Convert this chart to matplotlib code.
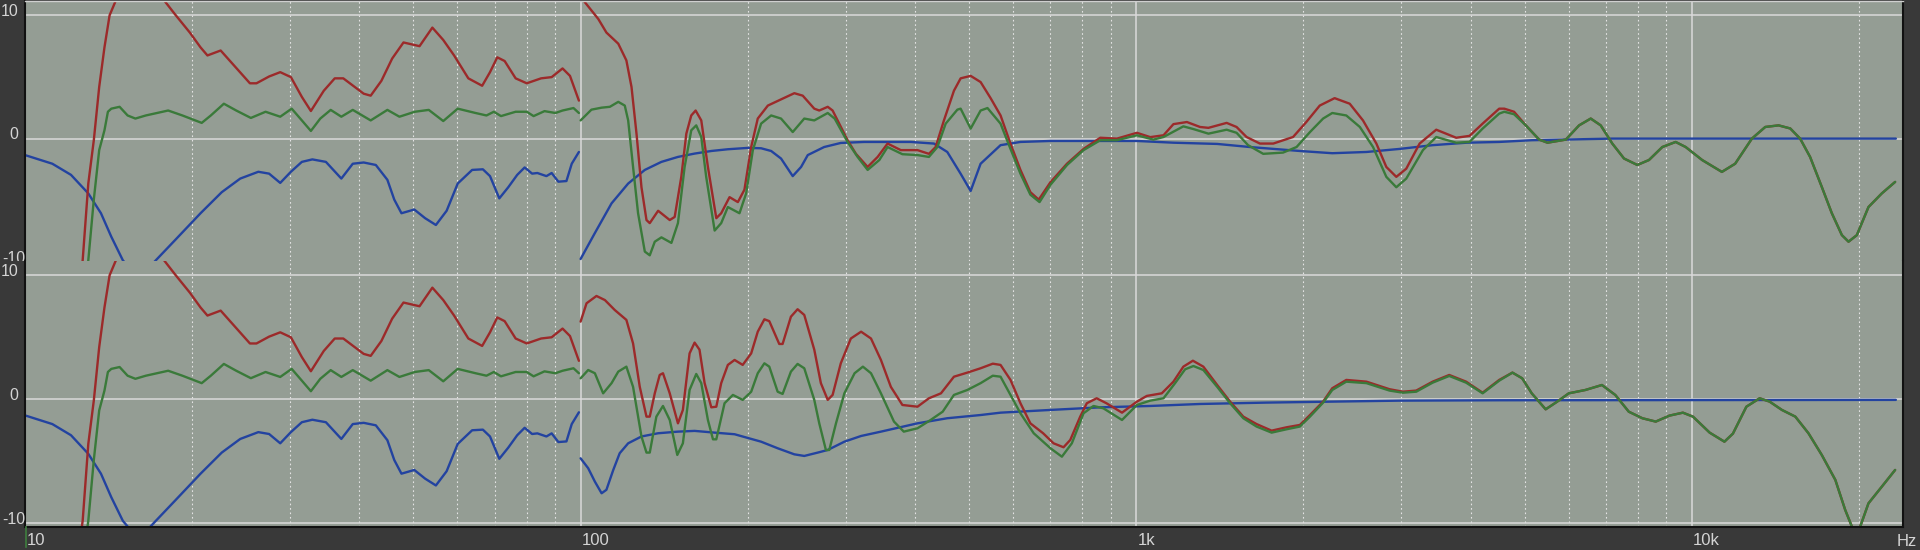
import matplotlib
matplotlib.use("Agg")
import matplotlib.pyplot as plt
from matplotlib.ticker import LogLocator, FixedLocator, NullFormatter
from matplotlib.transforms import offset_copy, Bbox, TransformedBbox
from matplotlib.lines import Line2D

# ---- low band (10-100 Hz), drawn identically in both panels ----
lo_red_f = [12.5, 12.7, 13.0, 13.3, 13.6, 13.9, 14.2, 14.7, 15.4, 16.5,
            17.8, 18.6, 19.8, 20.7, 21.3, 22.5, 23.5, 25.4, 26.1, 27.5,
            28.8, 30.1, 31.5, 32.7, 34.5, 36.1, 37.4, 40.7, 41.9, 43.8,
            45.8, 48.0, 51.3, 54.1, 56.6, 59.2, 62.8, 66.5, 68.7, 70.8,
            73.0, 76.4, 80.0, 84.9, 88.7, 92.8, 95.7, 99.3]
lo_red_db = [-12, -9.8, -3.6, -0.1, 4.2, 7.4, 10.0, 11.6, 13.0, 12.8,
             11.2, 10.1, 8.6, 7.4, 6.75, 7.15, 6.2, 4.5, 4.5, 5.05,
             5.4, 5.0, 3.4, 2.26, 3.9, 4.9, 4.9, 3.66, 3.5, 4.7,
             6.5, 7.8, 7.5, 9.0, 8.0, 6.75, 4.9, 4.3, 5.4, 6.6,
             6.3, 4.9, 4.5, 4.9, 5.0, 5.7, 5.1, 3.1]
lo_grn_f = [12.8, 13.0, 13.3, 13.6, 13.9, 14.1, 14.3, 14.8, 15.3, 15.8,
            16.5, 18.1, 19.2, 20.8, 21.6, 22.8, 24.0, 25.5, 27.1, 28.8,
            30.2, 31.5, 32.7, 34.0, 35.5, 37.1, 38.9, 41.9, 44.9, 47.2,
            50.3, 53.3, 56.6, 60.1, 64.7, 67.7, 69.8, 71.9, 76.4, 80.0,
            82.3, 86.1, 90.1, 92.8, 97.1, 99.3]
lo_grn_db = [-12, -9.8, -4.9, -0.9, 0.7, 2.2, 2.45, 2.6, 1.9, 1.65,
             1.9, 2.3, 1.9, 1.3, 1.9, 2.85, 2.3, 1.7, 2.2, 1.8,
             2.45, 1.5, 0.65, 1.65, 2.35, 1.8, 2.35, 1.5, 2.35, 1.8,
             2.2, 2.35, 1.45, 2.45, 2.1, 1.9, 2.2, 1.85, 2.2, 2.2,
             1.85, 2.25, 2.1, 2.3, 2.5, 2.1]
lo_blu_f = [10.0, 11.2, 12.1, 13.0, 13.7, 14.3, 15.0, 16.0, 17.2, 18.6,
            20.7, 22.6, 24.4, 26.3, 27.5, 28.8, 30.1, 31.5, 32.9, 34.8,
            37.1, 38.9, 40.7, 42.8, 44.9, 46.2, 47.6, 50.2, 52.5, 54.9,
            57.4, 60.1, 63.8, 66.7, 68.7, 71.4, 74.1, 76.9, 79.3, 81.8,
            83.6, 86.8, 88.7, 91.2, 94.3, 96.4, 99.3]
lo_blu_db = [-1.3, -2.0, -2.9, -4.4, -6.0, -7.9, -9.8, -11.3, -9.8, -8.2,
             -6.0, -4.3, -3.2, -2.65, -2.8, -3.55, -2.65, -1.85, -1.65, -1.85,
             -3.2, -2.0, -1.9, -2.1, -3.3, -4.9, -6.0, -5.7, -6.4, -6.95,
             -5.8, -3.6, -2.5, -2.45, -3.0, -4.8, -3.9, -2.9, -2.3, -2.8,
             -2.75, -3.0, -2.75, -3.45, -3.4, -2.0, -1.05]

# ---- top panel, 100 Hz and up ----
top_red_f = [100, 101.8, 107.6, 111.3, 116.9, 120.9, 123.5, 126.1, 128.7, 131.4,
             133.2, 137.9, 144.7, 147.7, 151.8, 155.0, 158.2, 161.1, 164.9, 169.5,
             175.5, 179.1, 185.4, 191.9, 197.2, 202.8, 208.4, 217.3, 229.5, 242.5,
             251.1, 263.4, 268.9, 278.5, 284.2, 302.4, 313.0, 328.6, 342.5, 356.9,
             377.0, 404.0, 423.6, 435.6, 450.8, 469.9, 483.1, 503.6, 524.8, 547,
             570.1, 593.9, 619.0, 645.1, 667.7, 700.8, 750.6, 804.2, 861.8, 923.4,
             1003, 1060, 1120, 1167, 1234, 1303, 1349, 1455, 1516, 1580,
             1670, 1765, 1916, 2024, 2140, 2276, 2423, 2560, 2706, 2820,
             2939, 3063, 3237, 3468, 3767, 3981, 4203, 4502, 4598, 4788,
             5027, 5313, 5500, 5934, 6269, 6579, 6857, 7194, 7553, 7980,
             8375, 8851, 9354, 9751, 10440, 11330, 11970, 12830, 13560, 14330,
             15040, 15670, 16330, 17140, 17870, 18630, 19150, 19820, 20800, 21980,
             23230]
top_red_db = [11.6, 11.05, 9.7, 8.6, 7.7, 6.35, 4.2, 0.4, -3.9, -6.55,
              -6.8, -5.8, -6.55, -6.3, -3.06, 0.43, 1.9, 2.3, 1.5, -2.26,
              -6.4, -6.0, -4.7, -5.1, -4.1, -0.65, 1.65, 2.7, 3.2, 3.7,
              3.5, 2.45, 2.3, 2.6, 2.3, -0.1, -1.2, -2.26, -1.45, -0.37,
              -0.9, -0.9, -1.2, -0.65, 1.5, 3.9, 4.9, 5.1, 4.6, 3.3,
              1.9, -0.37, -2.5, -4.3, -4.9, -3.5, -2.0, -0.8, 0.1, 0.03,
              0.5, 0.15, 0.3, 1.2, 1.37, 0.97, 0.9, 1.3, 0.97, 0.16,
              -0.37, -0.37, 0.16, 1.37, 2.7, 3.3, 2.85, 1.5, -0.37, -2.26,
              -3.06, -2.4, -0.37, 0.75, 0.1, 0.25, 1.24, 2.45, 2.45, 2.2,
              1.1, -0.05, -0.3, -0.05, 1.1, 1.65, 1.1, -0.37, -1.58, -2.1,
              -1.7, -0.65, -0.24, -0.65, -1.7, -2.66, -2.0, 0.03, 0.97, 1.1,
              0.85, 0.03, -1.45, -3.87, -6.0, -7.77, -8.3, -7.77, -5.5, -4.4,
              -3.47]
top_grn_f = [100, 104.6, 109.1, 112.9, 116.9, 120.1, 121.8, 124.3, 126.9, 130.5,
             133.2, 136.0, 139.8, 145.7, 149.7, 153.9, 158.2, 161.5, 164.9, 168.3,
             174.3, 179.1, 184.1, 193.2, 198.6, 204.2, 211.3, 220.3, 229.5, 240.9,
             252.7, 263.4, 278.5, 286.6, 302.4, 315.2, 328.6, 344.9, 356.9, 379.5,
             404.0, 423.6, 438.7, 454.1, 476.6, 483.1, 503.6, 524.8, 540, 570,
             594, 619, 645, 670, 701, 751, 804, 862, 923, 1003,
             1074, 1120, 1216, 1268, 1349, 1455, 1516, 1590, 1693, 1838,
             1944, 2055, 2170, 2254, 2389, 2527, 2669, 2820, 2939, 3063,
             3282, 3468, 3767, 3981, 4203, 4502, 4598, 4788,
             5027, 5313, 5500, 5934, 6269, 6579, 6857, 7194, 7553, 7980,
             8375, 8851, 9354, 9751, 10440, 11330, 11970, 12830, 13560, 14330,
             15040, 15670, 16330, 17140, 17870, 18630, 19150, 19820, 20800, 21980,
             23230]
top_grn_db = [1.5, 2.37, 2.53, 2.6, 3.0, 2.7, 1.5, -2.26, -6.0, -9.1,
              -9.4, -8.3, -7.95, -8.4, -6.8, -2.26, 0.7, 1.1, 0.16, -3.06,
              -7.4, -6.8, -5.5, -6.0, -4.4, -0.9, 1.24, 1.9, 1.65, 0.56,
              1.65, 1.5, 2.1, 1.65, -0.24, -1.45, -2.5, -1.7, -0.65, -1.23,
              -1.3, -1.45, -0.65, 1.24, 2.37, 2.45, 0.84, 2.3, 2.5, 1.24,
              -0.8, -2.8, -4.5, -5.1, -3.7, -2.1, -0.9, -0.1, -0.1, 0.3,
              -0.05, 0.16, 1.02, 0.8, 0.43, 0.75, 0.5, -0.5, -1.2, -1.1,
              -0.65, 0.56, 1.65, 2.1, 1.9, 0.97, -0.65, -3.06, -3.9, -3.2,
              -0.9, 0.16, -0.3, -0.24, 0.84, 2.05, 2.2, 2.0,
              1.1, -0.05, -0.3, -0.05, 1.1, 1.65, 1.1, -0.37, -1.58, -2.1,
              -1.7, -0.65, -0.24, -0.65, -1.7, -2.66, -2.0, 0.03, 0.97, 1.1,
              0.85, 0.03, -1.45, -3.87, -6.0, -7.77, -8.3, -7.77, -5.5, -4.4,
              -3.47]
top_blu_f = [100, 106.1, 113.7, 121.8, 130.5, 139.8, 149.7, 160.4, 171.9, 184.1,
             200, 211.3, 220.3, 229.5, 240.9, 249.4, 256.4, 274.4, 294, 323.8,
             393, 432.5, 457.1, 483, 503.6, 524.8, 570, 619, 701, 862,
             1003, 1167, 1399, 1602, 1971, 2254, 2597, 2985, 3417, 3935,
             4502, 5152, 7194, 23300]
top_blu_db = [-9.7, -7.6, -5.2, -3.6, -2.5, -1.85, -1.45, -1.18, -0.97, -0.83,
              -0.72, -0.75, -0.97, -1.58, -3.0, -2.26, -1.3, -0.65, -0.32, -0.24,
              -0.24, -0.37, -1.05, -2.8, -4.2, -2.0, -0.5, -0.24, -0.16, -0.16,
              -0.16, -0.3, -0.4, -0.65, -0.97, -1.15, -1.05, -0.8, -0.5, -0.3,
              -0.24, -0.1, 0.03, 0.03]

# ---- bottom panel, 100 Hz and up ----
bot_red_f = [100, 102.5, 106.8, 110.6, 115.2, 120.9, 124.3, 127.8, 131.4, 133.2,
             136.0, 138.8, 140.7, 144.7, 149.7, 152.8, 157.1, 160.4, 163.7, 167.2,
             171.9, 175.5, 179.1, 184.1, 189.3, 195.8, 202.8, 208.4, 214.2, 218.6,
             227.8, 231.0, 239.1, 245.8, 252.7, 263.4, 270.7, 278.5, 284.2, 294.0,
             306.5, 319.8, 333.2, 347.2, 361.8, 379.5, 404.0, 423.6, 445.3, 469.9,
             496.7, 524.8, 552, 570, 594, 619, 645, 680, 710, 740,
             761, 793, 815, 849, 884, 943, 1003, 1045, 1112, 1167,
             1216, 1265, 1321, 1399, 1476, 1559, 1647, 1753, 1865, 1971,
             2055, 2170, 2254, 2389, 2597, 2858, 3020, 3192, 3417, 3660,
             3925, 4203, 4502, 4756, 4952, 5152, 5458, 5726, 6007, 6436,
             6892, 7283, 7702, 8149, 8614, 9113, 9639, 10050, 10770, 11450,
             11860, 12540, 13250, 13810, 14530, 15360, 16220, 17140, 18130, 18890,
             19420, 19750, 20100, 20800, 21980, 23230]
bot_red_db = [6.26, 7.74, 8.33, 8.0, 7.2, 6.4, 4.5, 1.0, -1.4, -1.4,
              0.48, 1.96, 2.1, 0.48, -1.94, -0.86, 3.7, 4.57, 4.0, 1.3,
              -0.65, -0.6, 1.3, 2.77, 3.17, 2.77, 3.7, 5.45, 6.45, 6.3,
              4.46, 4.46, 6.66, 7.26, 6.8, 4.0, 1.3, -0.05, 0.35, 2.9,
              4.9, 5.45, 4.9, 3.17, 1.0, -0.46, -0.6, 0.08, 0.48, 1.82,
              2.15, 2.5, 2.87, 2.77, 1.56, -0.32, -1.94, -2.74, -3.55, -3.87,
              -3.28, -1.4, -0.32, 0.08, -0.32, -1.08, -0.19, 0.27, 0.48, 1.42,
              2.63, 3.11, 2.63, 1.15, -0.19, -1.4, -2.0, -2.53, -2.26, -2.07,
              -1.27, -0.19, 0.89, 1.56, 1.42, 0.81, 0.61, 0.7, 1.42, 1.96,
              1.42, 0.53, 1.56, 2.15, 1.69, 0.48, -0.81, -0.19, 0.48, 0.75,
              1.15, 0.35, -1.0, -1.53, -1.8, -1.32, -1.08, -1.4, -2.69, -3.42,
              -2.77, -0.6, 0.08, -0.19, -0.86, -1.4, -2.74, -4.49, -6.5, -8.93,
              -10.27, -11.0, -10.27, -8.39, -7.05, -5.7]
bot_grn_f = [100, 103.2, 106.1, 109.8, 113.7, 116.9, 120.9, 124.3, 128.7, 131.4,
             133.2, 136.9, 140.7, 144.7, 149.3, 152.8, 157.1, 161.5, 164.9, 169.5,
             173.1, 175.5, 181.6, 188.0, 195.8, 202.8, 208.4, 214.2, 218.6, 226.3,
             231.0, 239.1, 245.8, 252.7, 263.4, 268.9, 276.4, 280.3, 288.2, 298.4,
             311.3, 322.2, 333.2, 347.2, 366.5, 381.7, 404.0, 426.6, 448.5, 469.9,
             496.7, 524.8, 552, 570, 594, 619, 654, 701, 735, 766,
             804, 838, 873, 943, 1003, 1060, 1120, 1175, 1225, 1268,
             1321, 1399, 1476, 1559, 1647, 1753, 1865, 1971, 2055, 2170,
             2254, 2389, 2597, 2858, 3020, 3192, 3417, 3660, 3925, 4203,
             4502, 4756, 4952, 5152, 5458, 5726, 6007, 6436,
             6892, 7283, 7702, 8149, 8614, 9113, 9639, 10050, 10770, 11450,
             11860, 12540, 13250, 13810, 14530, 15360, 16220, 17140, 18130, 18890,
             19420, 19750, 20100, 20800, 21980, 23230]
bot_grn_db = [1.69, 2.36, 2.1, 0.48, 1.3, 2.23, 2.63, 1.0, -3.0, -4.3,
              -4.3, -1.4, -0.54, -1.67, -4.49, -3.55, 0.75, 2.04, 1.3, -1.67,
              -3.23, -3.23, -0.32, 0.35, -0.05, 0.61, 2.1, 2.9, 2.63, 0.61,
              0.43, 2.23, 2.85, 2.5, -0.05, -1.94, -4.09, -4.09, -1.94, 0.48,
              2.1, 2.63, 2.1, 0.48, -1.8, -2.61, -2.34, -1.67, -1.0, 0.35,
              0.75, 1.3, 1.9, 1.82, 0.35, -1.13, -2.74, -3.95, -4.63, -3.55,
              -1.13, -0.54, -0.73, -1.67, -0.46, -0.11, 0.08, 1.3, 2.42, 2.68,
              2.36, 1.0, -0.32, -1.53, -2.2, -2.69, -2.42, -2.2, -1.4, -0.27,
              0.75, 1.42, 1.3, 0.7, 0.53, 0.61, 1.34, 1.88, 1.34, 0.48,
              1.5, 2.15, 1.69, 0.48, -0.81, -0.19, 0.48, 0.75,
              1.15, 0.35, -1.0, -1.53, -1.8, -1.32, -1.08, -1.4, -2.69, -3.42,
              -2.77, -0.6, 0.08, -0.19, -0.86, -1.4, -2.74, -4.49, -6.5, -8.93,
              -10.27, -11.0, -10.27, -8.39, -7.05, -5.7]
bot_blu_f = [100, 103.2, 106.1, 109.1, 111.3, 114.5, 117.6, 121.8, 128.7, 137.9,
             149.7, 160.4, 174.3, 189.3, 211.3, 226.3, 242.5, 252.7, 267.2, 278.5,
             298.4, 319.8, 347.2, 404, 457, 524.8, 570, 701, 862, 1060,
             1303, 1710, 2254, 2985, 4502, 23300]
bot_blu_db = [-4.76, -5.56, -6.64, -7.58, -7.3, -5.7, -4.35, -3.55, -3.0, -2.74,
              -2.61, -2.55, -2.69, -2.82, -3.42, -3.95, -4.44, -4.57, -4.3, -4.09,
              -3.42, -2.96, -2.61, -1.94, -1.53, -1.27, -1.08, -0.86, -0.65, -0.54,
              -0.38, -0.27, -0.19, -0.11, -0.08, -0.05]

y_ticks = [10, 0, -10]
y_labels = ["10", "0", "-10"]
x_ticks = [10, 100, 1000, 10000]
x_labels = ["10", "100", "1k", "10k"]

BG = "#393939"
PLOT_BG = "#949d94"
RED = "#9c2a2a"
GRN = "#3a7a3a"
BLU = "#2343a0"
TXT = "#d4d4d4"
LW = 1.7

plt.rcParams["font.family"] = ["Liberation Sans", "DejaVu Sans"]

W, H = 1920, 550
fig = plt.figure(figsize=(W / 100, H / 100), dpi=100, facecolor=BG)


def px_rect(top, bot):
    return [25 / W, (H - bot) / H, 1878 / W, (bot - top) / H]


ax1 = fig.add_axes(px_rect(1, 261))
ax2 = fig.add_axes(px_rect(261, 527))
ax1.set_ylim(-9.86, 11.15)
ax2.set_ylim(-10.3, 11.15)

line_kw = dict(lw=LW, solid_joinstyle="round", solid_capstyle="round")

for ax in (ax1, ax2):
    ax.set_facecolor(PLOT_BG)
    ax.set_xscale("log")
    ax.set_xlim(10, 24000)
    ax.xaxis.set_major_locator(FixedLocator(x_ticks))
    ax.xaxis.set_minor_locator(LogLocator(base=10, subs=range(2, 10), numticks=20))
    ax.xaxis.set_minor_formatter(NullFormatter())
    ax.yaxis.set_major_locator(FixedLocator(y_ticks))
    ax.tick_params(which="both", length=0, labelleft=False, labelbottom=False)
    ax.set_axisbelow(True)
    ax.grid(which="major", axis="both", color="#dadada", lw=1.1)
    ax.grid(which="minor", axis="x", color="#e4e4e4", lw=0.8, ls=(0, (1.5, 2.5)))
    for s in ("left", "right"):
        ax.spines[s].set_color("#111111")
        ax.spines[s].set_linewidth(1.5)
    # low band is the same in both panels
    ax.plot(lo_blu_f, lo_blu_db, color=BLU, **line_kw)
    ax.plot(lo_red_f, lo_red_db, color=RED, **line_kw)
    ax.plot(lo_grn_f, lo_grn_db, color=GRN, **line_kw)

ax1.spines["top"].set_color("#cfcfcf")
ax1.spines["top"].set_linewidth(1.0)
ax1.spines["bottom"].set_visible(False)
ax2.spines["top"].set_visible(False)
ax2.spines["bottom"].set_color("#111111")
ax2.spines["bottom"].set_linewidth(1.5)

ax1.plot(top_blu_f, top_blu_db, color=BLU, **line_kw)
ax1.plot(top_red_f, top_red_db, color=RED, **line_kw)
ax1.plot(top_grn_f, top_grn_db, color=GRN, **line_kw)

ax2.plot(bot_blu_f, bot_blu_db, color=BLU, **line_kw)
ax2.plot(bot_red_f, bot_red_db, color=RED, **line_kw)
ax2.plot(bot_grn_f, bot_grn_db, color=GRN, **line_kw)

# y labels in the left strip, sitting just above their grid line
top_clip = TransformedBbox(Bbox.from_extents(0, (H - 261) / H, 25 / W, 1), fig.transFigure)
for ax in (ax1, ax2):
    tr_r = offset_copy(ax.get_yaxis_transform(), fig=fig, x=-5.0, y=3, units="points")
    for v, lab in zip(y_ticks, y_labels):
        if v == -10:
            # keep the wider label inside the strip
            t = ax.text(1 / 1878, v, lab, fontsize=11.5, color=TXT, ha="left", va="center",
                        transform=offset_copy(ax.get_yaxis_transform(), fig=fig,
                                              x=-24 * 0.72, y=3, units="points"),
                        clip_on=False)
        else:
            t = ax.text(0, v, lab, transform=tr_r, ha="right", va="center",
                        fontsize=11.5, color=TXT, clip_on=False)
        if ax is ax1 and v == -10:
            t.set_clip_on(True)
            t.set_clip_box(top_clip)

# x labels in the bottom strip
trx = offset_copy(ax2.get_xaxis_transform(), fig=fig, x=1, y=-10, units="points")
for v, lab in zip(x_ticks, x_labels):
    ax2.text(v, 0, lab, transform=trx, ha="left", va="center",
             fontsize=12, color=TXT, clip_on=False)
fig.text(1917 / W, 8.5 / H, "Hz", ha="right", va="center", fontsize=12, color=TXT)

fig.add_artist(Line2D([25.5 / W, 25.5 / W], [3 / H, 23 / H], color="#3f7f3f", lw=1.2))

fig.savefig("out.png", dpi=100, facecolor=BG)
